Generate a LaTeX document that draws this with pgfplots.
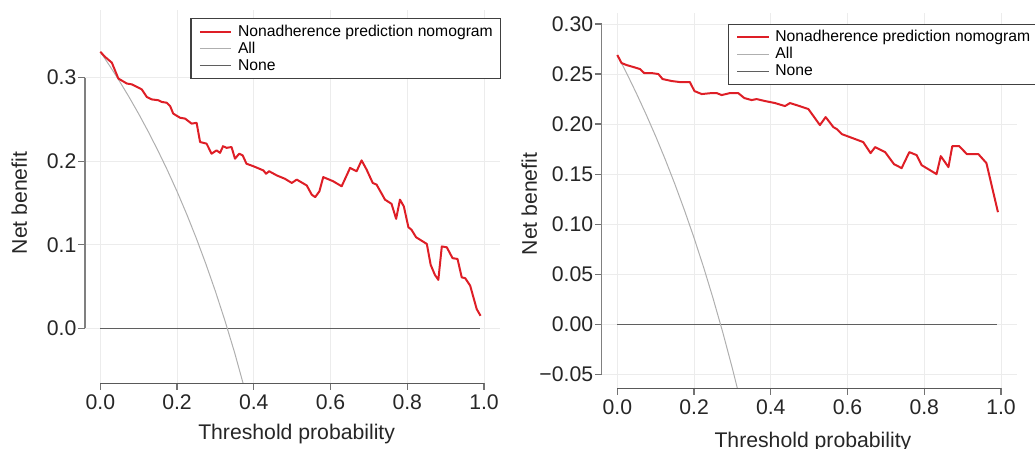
\documentclass[border=0pt]{standalone}
\usepackage{fontspec}
\setmainfont{Liberation Sans}
\usepackage{pgfplots}
\pgfplotsset{compat=1.18}

\definecolor{nomred}{RGB}{222,30,38}
\definecolor{allgray}{RGB}{175,175,175}
\definecolor{nonegray}{RGB}{95,95,95}
\definecolor{gridgray}{RGB}{236,236,236}

\pgfplotsset{
  dca/.style={
    scale only axis,
    width=207.5bp,
    clip mode=individual,
    axis line style={draw=none},
    xtick pos=bottom, ytick pos=left,
    tick align=outside,
    major tick length=3.3bp,
    every tick/.style={black!55, line width=0.6bp},
    grid=major,
    major grid style={gridgray, line width=0.5bp},
    xtick={0,0.2,0.4,0.6,0.8,1},
    xticklabels={0.0,0.2,0.4,0.6,0.8,1.0},
    tick label style={font=\fontsize{10.6bp}{12bp}\selectfont, black!85},
    yticklabel style={inner sep=0.8bp},
    xticklabel style={inner sep=0pt, yshift=-2.3bp},
    label style={font=\fontsize{10.6bp}{12bp}\selectfont, black!85},
    xlabel={Threshold probability},
    ylabel={Net benefit},
    legend cell align=left,
    reverse legend,
    legend image code/.code={\draw[##1] (0bp,0bp) -- (15.8bp,0bp);},
    legend style={
      draw=black!75, line width=0.6bp,
      font=\fontsize{7.85bp}{9bp}\selectfont,
      inner xsep=3.9bp, inner ysep=2.5bp,
      nodes={inner sep=0pt, text height=6.2bp, text depth=1.8bp},
      row sep=0.5bp,
      /tikz/every odd column/.append style={column sep=2.8bp},
    },
  }
}

\begin{document}
\begin{tikzpicture}
% left panel
\begin{axis}[dca,
  at={(42.5bp,32.85bp)}, anchor=south west,
  height=186.65bp,
  xmin=-0.0399, xmax=1.0417,
  ymin=-0.0658, ymax=0.381,
  ytick={0,0.1,0.2,0.3},
  yticklabels={0.0,0.1,0.2,0.3},
  xlabel style={at={(axis description cs:0.510,-0.136)}, anchor=center},
  ylabel style={at={(axis description cs:-0.1586,0.483)}, anchor=center},
  legend style={at={(axis description cs:1.003,0.978)}, anchor=north east},
]
\addplot[nonegray, line width=0.65bp] coordinates {(0,0) (0.99,0)};
\addlegendentry{None}
\addplot[allgray, line width=0.5bp] coordinates {
  (0,0.331) (0.025,0.3138) (0.05,0.2958) (0.075,0.2768) (0.1,0.2567)
  (0.125,0.2354) (0.15,0.2129) (0.175,0.1891) (0.2,0.1638) (0.225,0.1368)
  (0.25,0.108) (0.275,0.0772) (0.3,0.0443) (0.325,0.0089) (0.35,-0.029)
  (0.38,-0.079)};
\addlegendentry{All}
\addplot[nomred, line width=1bp, line join=round] coordinates {
  (0,0.331) (0.012,0.325) (0.03,0.318) (0.047,0.299) (0.069,0.293)
  (0.082,0.292) (0.108,0.286) (0.121,0.277) (0.134,0.274) (0.151,0.273)
  (0.16,0.271) (0.173,0.27) (0.182,0.266) (0.19,0.257) (0.208,0.252)
  (0.221,0.251) (0.238,0.245) (0.251,0.246) (0.26,0.223) (0.277,0.221)
  (0.29,0.209) (0.303,0.213) (0.312,0.21) (0.32,0.218) (0.329,0.216)
  (0.342,0.217) (0.351,0.203) (0.362,0.209) (0.371,0.207) (0.381,0.197)
  (0.399,0.194) (0.425,0.189) (0.432,0.185) (0.44,0.188) (0.46,0.183)
  (0.481,0.179) (0.499,0.174) (0.512,0.178) (0.538,0.171) (0.551,0.16)
  (0.56,0.157) (0.571,0.164) (0.581,0.181) (0.607,0.176) (0.629,0.17)
  (0.651,0.192) (0.668,0.188) (0.681,0.201) (0.694,0.19) (0.71,0.174)
  (0.72,0.172) (0.742,0.154) (0.759,0.149) (0.771,0.131) (0.781,0.154)
  (0.791,0.146) (0.803,0.121) (0.811,0.118) (0.823,0.109) (0.851,0.101)
  (0.861,0.076) (0.872,0.064) (0.881,0.058) (0.89,0.098) (0.903,0.097)
  (0.918,0.084) (0.931,0.083) (0.942,0.061) (0.951,0.06) (0.964,0.051)
  (0.981,0.023) (0.991,0.015)};
\addlegendentry{Nonadherence prediction nomogram}
\draw[black!50, line width=0.65bp] (axis cs:-0.0399,0) -- (axis cs:-0.0399,0.3);
\draw[black!65, line width=0.65bp] (axis cs:0,-0.0658) -- (axis cs:1,-0.0658);
\end{axis}

% right panel
\begin{axis}[dca,
  at={(300.85bp,30.35bp)}, anchor=south west,
  height=187.65bp,
  xmin=-0.0407, xmax=1.0409,
  ymin=-0.064, ymax=0.311,
  ytick={-0.05,0,0.05,0.1,0.15,0.2,0.25,0.3},
  yticklabels={−0.05,0.00,0.05,0.10,0.15,0.20,0.25,0.30},
  xlabel style={at={(axis description cs:0.509,-0.142)}, anchor=center},
  ylabel style={at={(axis description cs:-0.1747,0.491)}, anchor=center},
  legend style={at={(axis description cs:0.3036,0.971)}, anchor=north west},
]
\addplot[nonegray, line width=0.65bp] coordinates {(0,0) (0.99,0)};
\addlegendentry{None}
\addplot[allgray, line width=0.5bp] coordinates {
  (0,0.269) (0.025,0.2503) (0.05,0.2305) (0.075,0.2097) (0.1,0.1878)
  (0.125,0.1646) (0.15,0.140) (0.175,0.1139) (0.2,0.0863) (0.225,0.0568)
  (0.25,0.0253) (0.275,-0.0083) (0.3,-0.0443) (0.32,-0.075)};
\addlegendentry{All}
\addplot[nomred, line width=1bp, line join=round] coordinates {
  (0,0.269) (0.011,0.261) (0.024,0.259) (0.042,0.257) (0.059,0.255)
  (0.07,0.251) (0.089,0.251) (0.107,0.250) (0.118,0.245) (0.142,0.243)
  (0.163,0.242) (0.189,0.242) (0.201,0.233) (0.22,0.230) (0.246,0.231)
  (0.259,0.231) (0.272,0.229) (0.294,0.231) (0.315,0.231) (0.331,0.226)
  (0.35,0.224) (0.363,0.225) (0.385,0.223) (0.411,0.221) (0.437,0.218)
  (0.45,0.221) (0.475,0.218) (0.498,0.215) (0.528,0.199) (0.543,0.207)
  (0.563,0.197) (0.572,0.195) (0.585,0.190) (0.606,0.187) (0.641,0.182)
  (0.66,0.171) (0.672,0.177) (0.698,0.172) (0.721,0.160) (0.741,0.156)
  (0.761,0.172) (0.78,0.169) (0.793,0.159) (0.832,0.150) (0.843,0.168)
  (0.863,0.157) (0.873,0.178) (0.891,0.178) (0.911,0.170) (0.941,0.170)
  (0.962,0.161) (0.992,0.112)};
\addlegendentry{Nonadherence prediction nomogram}
\draw[black!50, line width=0.65bp] (axis cs:-0.0407,-0.05) -- (axis cs:-0.0407,0.3);
\draw[black!65, line width=0.65bp] (axis cs:0,-0.064) -- (axis cs:1,-0.064);
\end{axis}

\pgfresetboundingbox
\path[use as bounding box] (0,0) rectangle (517.5bp,224.5bp);
\end{tikzpicture}
\end{document}
